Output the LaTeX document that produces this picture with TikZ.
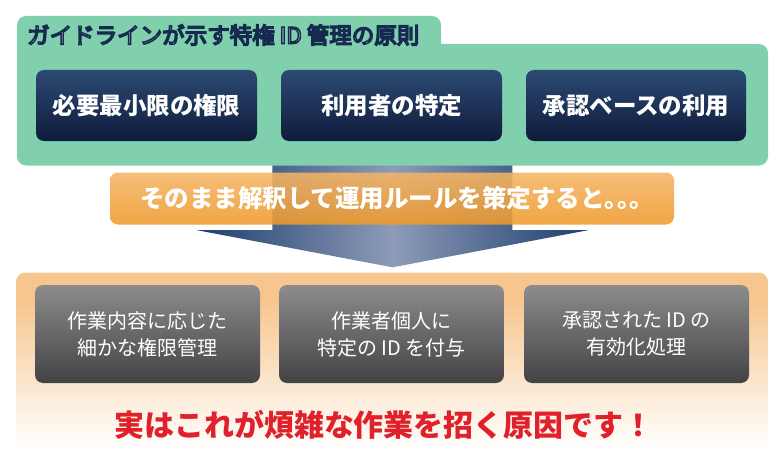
\documentclass[tikz,border=0pt]{standalone}
\usepackage{fontspec}
\setmainfont{Noto Sans CJK JP}
\definecolor{panelgreen}{HTML}{80D0AE}
\definecolor{navytop}{HTML}{2C4A73}
\definecolor{navybot}{HTML}{0F1B3B}
\definecolor{arrowdark}{HTML}{1E3E6C}
\definecolor{arrowlight}{HTML}{8D9BB8}
\definecolor{bantop}{HTML}{F4B565}
\definecolor{banbot}{HTML}{EF9A2C}
\definecolor{panelorange}{HTML}{F6C68E}
\definecolor{graytop}{HTML}{8C8C8C}
\definecolor{graybot}{HTML}{434347}
\definecolor{alertred}{HTML}{E0202A}
\tikzset{
  navybox/.style={rounded corners=8pt, top color=navytop, bottom color=navybot,
    minimum height=71pt, text=white, inner sep=0pt,
    font=\fontsize{23.5}{26}\selectfont\bfseries},
  graybox/.style={rounded corners=8pt, top color=graytop, bottom color=graybot,
    minimum width=225pt, minimum height=98pt, text=white, inner sep=0pt, align=center,
    font=\fontsize{20}{27}\selectfont},
  banner/.style={rounded corners=8pt, top color=bantop, bottom color=banbot,
    fill opacity=0.88, text opacity=1, minimum width=564pt, minimum height=52pt,
    text=white, inner sep=0pt, font=\fontsize{24.5}{28}\selectfont\bfseries},
  titletext/.style={anchor=west, inner sep=0pt, font=\fontsize{22.5}{26}\selectfont},
}
\newcommand{\outlined}[1]{\special{pdf:code 0.086 0.161 0.31 RG 2 Tr 1.5 w}#1\special{pdf:code 0 Tr}}
\begin{document}
\begin{tikzpicture}[x=1pt,y=-1pt]
\useasboundingbox (0,0) rectangle (780,460);
\fill[white] (0,0) rectangle (780,460);
% arrow
\shade[left color=arrowdark, right color=arrowdark, middle color=arrowlight]
  (272.3,164) -- (512.3,164) -- (512.3,230) -- (589,230) -- (392.5,267.3) -- (196,230) -- (272.3,230) -- cycle;
% green panel
\fill[panelgreen, rounded corners=9pt] (17,16) rectangle (441,70);
\fill[panelgreen, rounded corners=9pt] (17,44) rectangle (768,165.5);
% title with outline
\node[titletext, text=white] (title) at (27,35) {\outlined{ガイドラインが示す特権 ID 管理の原則}};
% navy boxes
\node[navybox, minimum width=221pt] (p1) at (146.5,105.5) {必要最小限の権限};
\node[navybox, minimum width=221pt] (p2) at (391.5,105.5) {利用者の特定};
\node[navybox, minimum width=220pt] (p3) at (636,105.5) {承認ベースの利用};
% banner
\node[banner] (ban) at (392,198.5) {\raisebox{-1.5pt}{そのまま解釈して運用ルールを策定すると。\kern-0.5em。\kern-0.5em。\kern-0.4em}};
% bottom panel
\begin{scope}
  \clip[rounded corners=9pt] (16,272.7) rectangle (768,480);
  \fill[panelorange] (16,272) rectangle (768,301);
  \shade[top color=panelorange, bottom color=white] (16,300) rectangle (768,448);
  \fill[white] (16,447) rectangle (768,480);
\end{scope}
% gray boxes
\node[graybox] (g1) at (147.5,334) {作業内容に応じた\\細かな権限管理};
\node[graybox] (g2) at (391.5,334) {作業者個人に\\特定の ID を付与};
\node[graybox] (g3) at (636.5,334) {承認された ID の\\有効化処理};
% conclusion
\node[text=alertred, font=\fontsize{30}{32}\selectfont\bfseries, inner sep=0pt] (concl) at (384,425) {実はこれが煩雑な作業を招く原因です！};
\end{tikzpicture}
\end{document}
